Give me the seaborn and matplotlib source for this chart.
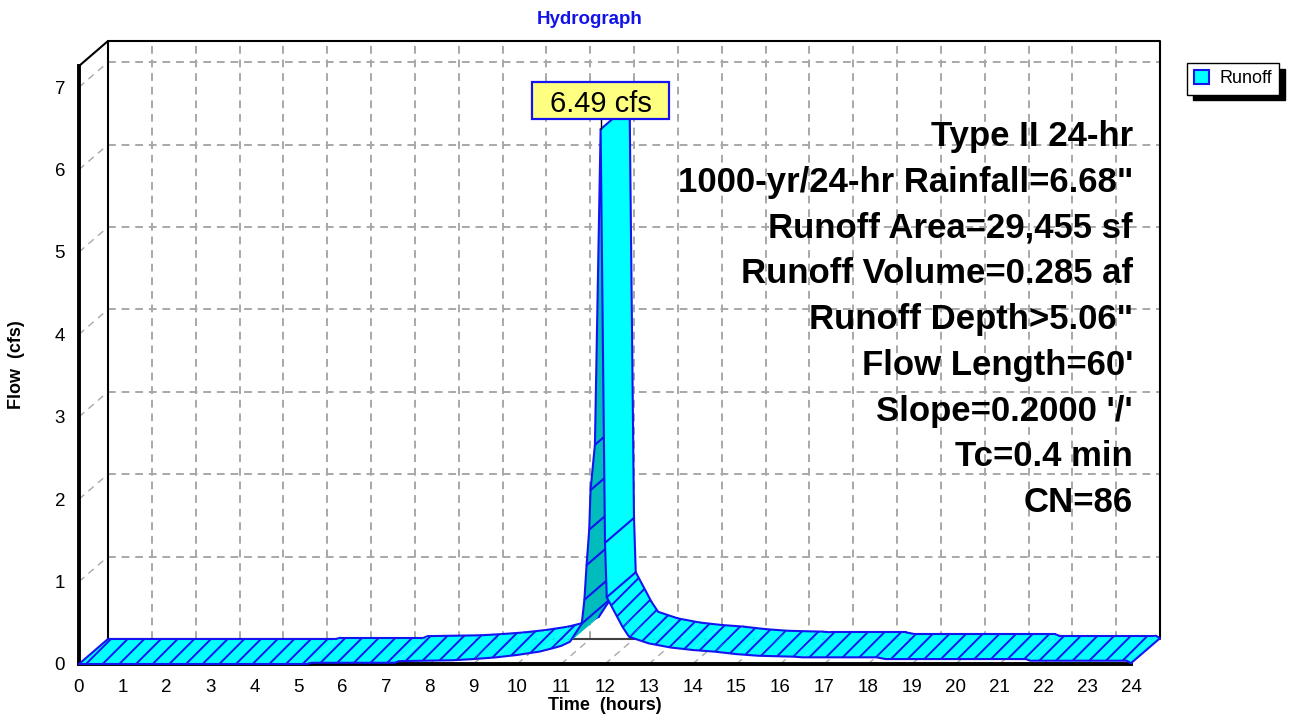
"""Hydrograph in the HydroCAD 3D ribbon style."""

import matplotlib

matplotlib.use("Agg")
import matplotlib.pyplot as plt
import numpy as np
import pandas as pd
import seaborn as sns
from matplotlib.patches import Patch, Rectangle

# values
hours = [0.0, 5.2, 5.3, 7.2, 7.3, 8.5, 9.0, 9.5, 10.0, 10.5, 10.8, 11.0, 11.2,
         11.47, 11.53, 11.58, 11.64, 11.67, 11.77, 11.90, 12.00, 12.04, 12.40,
         12.55, 13.0, 13.5, 14.0, 14.5, 15.0, 15.5, 16.3, 16.5, 18.2, 18.4,
         21.6, 21.7, 23.9, 24.0]
flow = [0.0, 0.0, 0.015, 0.015, 0.035, 0.045, 0.06, 0.08, 0.11, 0.15, 0.19,
        0.22, 0.27, 0.49, 0.78, 1.20, 1.63, 2.11, 2.66, 6.49, 1.47, 0.81, 0.45,
        0.33, 0.25, 0.20, 0.17, 0.15, 0.12, 0.10, 0.089, 0.081, 0.081, 0.06,
        0.06, 0.04, 0.04, 0.01]
peak_label = "6.49 cfs"
info_lines = ["Type II 24-hr", "1000-yr/24-hr Rainfall=6.68\"",
              "Runoff Area=29,455 sf", "Runoff Volume=0.285 af",
              "Runoff Depth>5.06\"", "Flow Length=60'", "Slope=0.2000 '/'",
              "Tc=0.4 min", "CN=86"]
x_ticks = list(range(0, 25))
y_ticks = list(range(0, 8))

W, H = 1294, 717
PX_X, PX_Y = 43.83, 82.4          # pixels per hour / per cfs
DX, DY = 29 / PX_X, 25 / PX_Y     # depth offset in data units
Y_TOP = 598 / PX_Y
CYAN, TEAL, BLUE = "#00FFFF", "#00BCBC", "#1414F0"
GRID = "#A8A8A8"

sns.set_style("white")
plt.rcParams["font.family"] = ["Liberation Sans", "DejaVu Sans"]
plt.rcParams["text.color"] = "black"
plt.rcParams["axes.labelcolor"] = "black"
plt.rcParams["xtick.labelcolor"] = "black"
plt.rcParams["ytick.labelcolor"] = "black"
plt.rcParams["hatch.linewidth"] = 1.4
plt.rcParams["hatch.color"] = BLUE

fig = plt.figure(figsize=(W / 100, H / 100), dpi=100)
ax = fig.add_axes([79 / W, (H - 664) / H, 1052 / W, 598 / H])
ax.set_xlim(0, 24)
ax.set_ylim(0, Y_TOP)

# back wall grid, floor and wall diagonals
for h in x_ticks[1:-1]:
    ax.plot([h + DX, h + DX], [DY, Y_TOP + DY], color=GRID, lw=1.4,
            dashes=(4, 3), zorder=1, clip_on=False)
    ax.plot([h, h + DX], [0, DY], color=GRID, lw=1.0, dashes=(5, 4),
            zorder=1, clip_on=False)
for v in y_ticks[1:]:
    ax.plot([DX, 24 + DX], [v + DY, v + DY], color=GRID, lw=1.4,
            dashes=(4, 3), zorder=1, clip_on=False)
    ax.plot([0, DX], [v, v + DY], color=GRID, lw=1.0, dashes=(5, 4),
            zorder=1, clip_on=False)

# frame
frame = dict(color="black", lw=1.5, zorder=2, clip_on=False)
ax.plot([DX, DX, 24 + DX, 24 + DX], [DY, Y_TOP + DY, Y_TOP + DY, DY], **frame)
ax.plot([DX, 24 + DX], [DY, DY], color="#404040", lw=1.5, zorder=2, clip_on=False)
ax.plot([0, DX], [Y_TOP, Y_TOP + DY], **frame)

for side in ["top", "right"]:
    ax.spines[side].set_visible(False)
for side in ["left", "bottom"]:
    ax.spines[side].set_linewidth(2.8)
    ax.spines[side].set_color("black")

ax.set_xticks(x_ticks)
ax.set_yticks(y_ticks)
ax.set_xticks(np.arange(0, 24.01, 0.2), minor=True)
ax.set_yticks(np.arange(0, Y_TOP, 0.2), minor=True)
ax.tick_params(which="major", direction="out", color="#808080", width=1.1,
               labelsize=13.5, labelcolor="black")
ax.tick_params(axis="x", which="major", length=7, pad=4)
ax.tick_params(axis="y", which="major", length=8, pad=2)
ax.tick_params(axis="x", which="minor", length=4, width=1.1, color="#808080")
ax.tick_params(axis="y", which="minor", length=5, width=1.1, color="#808080")

# ribbon, painted from left to right
t = np.array(hours)
v = np.array(flow)
n = len(t)
steep = []
for i in range(n - 1):
    dt_px = (t[i + 1] - t[i]) * PX_X
    dv_px = (v[i + 1] - v[i]) * PX_Y
    steep.append(abs(dv_px) > 3 * dt_px)
    face = CYAN if dt_px * 25 - dv_px * 29 >= 0 else TEAL
    z = 3 + i * 0.01
    ax.fill([t[i], t[i + 1], t[i + 1] + DX, t[i] + DX],
            [v[i], v[i + 1], v[i + 1] + DY, v[i] + DY],
            facecolor=face, edgecolor=BLUE, linewidth=0,
            hatch=None if steep[i] else "//", zorder=z, clip_on=False)
    ax.plot([t[i] + DX, t[i + 1] + DX], [v[i] + DY, v[i + 1] + DY],
            color=BLUE, lw=1.5, zorder=z + 0.005, clip_on=False,
            solid_capstyle="round")

for i in range(n):
    near_steep = (i > 0 and steep[i - 1]) or (i < n - 1 and steep[i])
    if i == 0 or i == n - 1 or near_steep:
        z = 3 + min(i, n - 2) * 0.01 + 0.006
        ax.plot([t[i], t[i] + DX], [v[i], v[i] + DY], color=BLUE, lw=1.5,
                zorder=z, clip_on=False, solid_capstyle="round")

front = pd.DataFrame({"hours": hours, "flow": flow})
sns.lineplot(data=front, x="hours", y="flow", color=BLUE, lw=1.5,
             estimator=None, sort=False, ax=ax, zorder=10, clip_on=False)

# peak label: box 137 x 37 px, its bottom 10 px above the peak
ipk = int(np.argmax(v))
box_w, box_h, box_gap = 137 / PX_X, 37 / PX_Y, 10 / PX_Y
ax.plot([t[ipk], t[ipk]], [v[ipk], v[ipk] + box_gap], color="black", lw=1.0,
        zorder=11, clip_on=False)
ax.add_patch(Rectangle((t[ipk] - box_w / 2, v[ipk] + box_gap), box_w, box_h,
                       facecolor="#FFFF80", edgecolor=BLUE, linewidth=1.6,
                       zorder=12, clip_on=False))
ax.text(t[ipk], v[ipk] + box_gap + box_h / 2, peak_label, fontsize=21,
        ha="center", va="center_baseline", zorder=13, color="black")

# storm summary block
for k, line in enumerate(info_lines):
    y_px = 146 + 45.75 * k
    ax.text((1133 - 79) / PX_X, (664 - y_px) / PX_Y, line, fontsize=25,
            fontweight="bold", ha="right", va="baseline", zorder=12,
            color="black")

ax.set_xlabel("")
ax.set_ylabel("")
fig.text(605 / W, 1 - 706 / H, "Time  (hours)", fontsize=13, fontweight="bold",
         ha="center", va="center", color="black")
fig.text(17 / W, 1 - 365 / H, "Flow  (cfs)", fontsize=13, fontweight="bold",
         ha="center", va="center", rotation=90, color="black")
fig.text(590 / W, 1 - 20 / H, "Hydrograph", fontsize=13.5, fontweight="bold",
         color="#1414E6", ha="center", va="center")

fig.legend(handles=[Patch(facecolor=CYAN, edgecolor=BLUE, linewidth=1.5,
                          label="Runoff")],
           loc="upper left", bbox_to_anchor=(1187 / W, 1 - 63 / H),
           frameon=True, fancybox=False, edgecolor="black", fontsize=13,
           handlelength=0.8, handleheight=0.8, handletextpad=0.6,
           borderpad=0.4, borderaxespad=0, labelcolor="black",
           shadow={"ox": 4, "oy": -4, "color": "black", "alpha": 1})
fig.legends[0].get_frame().set_linewidth(1.0)

fig.savefig("out.png", dpi=100)
